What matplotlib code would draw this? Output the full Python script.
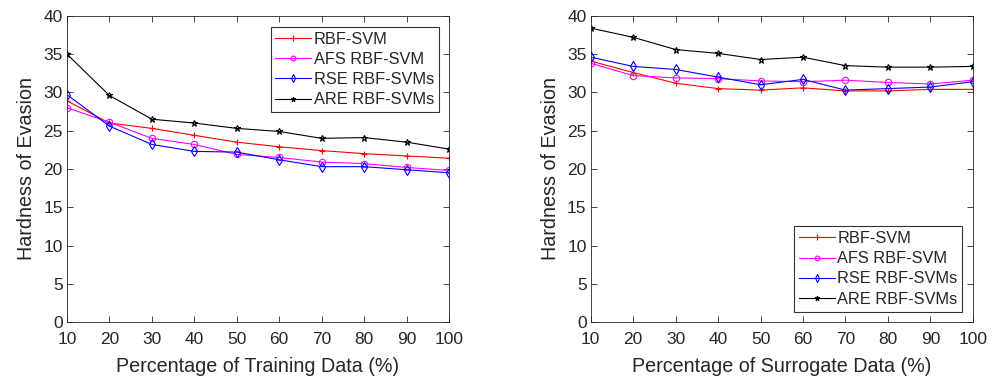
import matplotlib
matplotlib.use("Agg")
import matplotlib.pyplot as plt

plt.rcParams['font.family'] = ['Liberation Sans', 'DejaVu Sans']

x = [10, 20, 30, 40, 50, 60, 70, 80, 90, 100]
labels = ['RBF-SVM', 'AFS RBF-SVM', 'RSE RBF-SVMs', 'ARE RBF-SVMs']

train_rbf = [28.9, 26.0, 25.3, 24.4, 23.5, 22.9, 22.4, 22.0, 21.7, 21.4]
train_afs = [28.0, 26.1, 24.0, 23.2, 21.9, 21.5, 20.9, 20.7, 20.2, 19.8]
train_rse = [29.7, 25.6, 23.2, 22.3, 22.2, 21.2, 20.3, 20.3, 19.9, 19.5]
train_are = [35.0, 29.6, 26.5, 26.0, 25.3, 24.9, 24.0, 24.1, 23.5, 22.6]

sur_rbf = [34.1, 32.6, 31.2, 30.5, 30.3, 30.6, 30.2, 30.2, 30.4, 30.4]
sur_afs = [33.8, 32.2, 31.9, 31.8, 31.5, 31.4, 31.6, 31.3, 31.1, 31.6]
sur_rse = [34.6, 33.4, 33.0, 32.0, 31.0, 31.7, 30.3, 30.5, 30.7, 31.4]
sur_are = [38.4, 37.2, 35.6, 35.1, 34.3, 34.6, 33.5, 33.3, 33.3, 33.4]

styles = [('#ff0000', '+', 5), ('#ff00ff', 'o', 4.6), ('#0000ff', 'd', 5.6), ('#000000', '*', 4.6)]
txt = '#262626'

fig = plt.figure(figsize=(9.95, 3.78), dpi=100)
ax1 = fig.add_axes([0.0673, 0.148, 0.384, 0.810])
ax2 = fig.add_axes([0.5937, 0.148, 0.384, 0.810])

def draw(ax, series, xlabel, leg_loc, anchor):
    for ys, (c, m, ms), lab in zip(series, styles, labels):
        ax.plot(x, ys, color=c, marker=m, markersize=ms, markerfacecolor='none',
                markeredgecolor=c, linewidth=0.8, markeredgewidth=0.8, label=lab)
    ax.set_xlim(10, 100)
    ax.set_ylim(0, 40)
    ax.set_xticks(x)
    ax.set_yticks(range(0, 41, 5))
    ax.tick_params(direction='in', top=True, right=True, length=4, width=0.6,
                   labelsize=12.5, colors=txt, labelcolor=txt)
    ax.tick_params(axis='x', pad=7.5)
    ax.tick_params(axis='y', pad=3)
    for s in ax.spines.values():
        s.set_linewidth(0.6)
        s.set_color(txt)
    ax.set_xlabel(xlabel, fontsize=14.2, color=txt, labelpad=6.5)
    ax.set_ylabel('Hardness of Evasion', fontsize=14.2, color=txt, labelpad=5)
    leg = ax.legend(loc=leg_loc, bbox_to_anchor=anchor, fontsize=11.8, frameon=True,
                    fancybox=False, edgecolor='black', borderpad=0.3, labelspacing=0.32,
                    handlelength=2.2, handletextpad=0.15, borderaxespad=0,
                    markerscale=0.75)
    leg.get_frame().set_linewidth(0.8)
    for t in leg.get_texts():
        t.set_color(txt)

draw(ax1, [train_rbf, train_afs, train_rse, train_are], 'Percentage of Training Data (%)',
     'upper right', (0.974, 0.965))
draw(ax2, [sur_rbf, sur_afs, sur_rse, sur_are], 'Percentage of Surrogate Data (%)',
     'lower right', (0.973, 0.034))

fig.savefig('out.png', dpi=100)
